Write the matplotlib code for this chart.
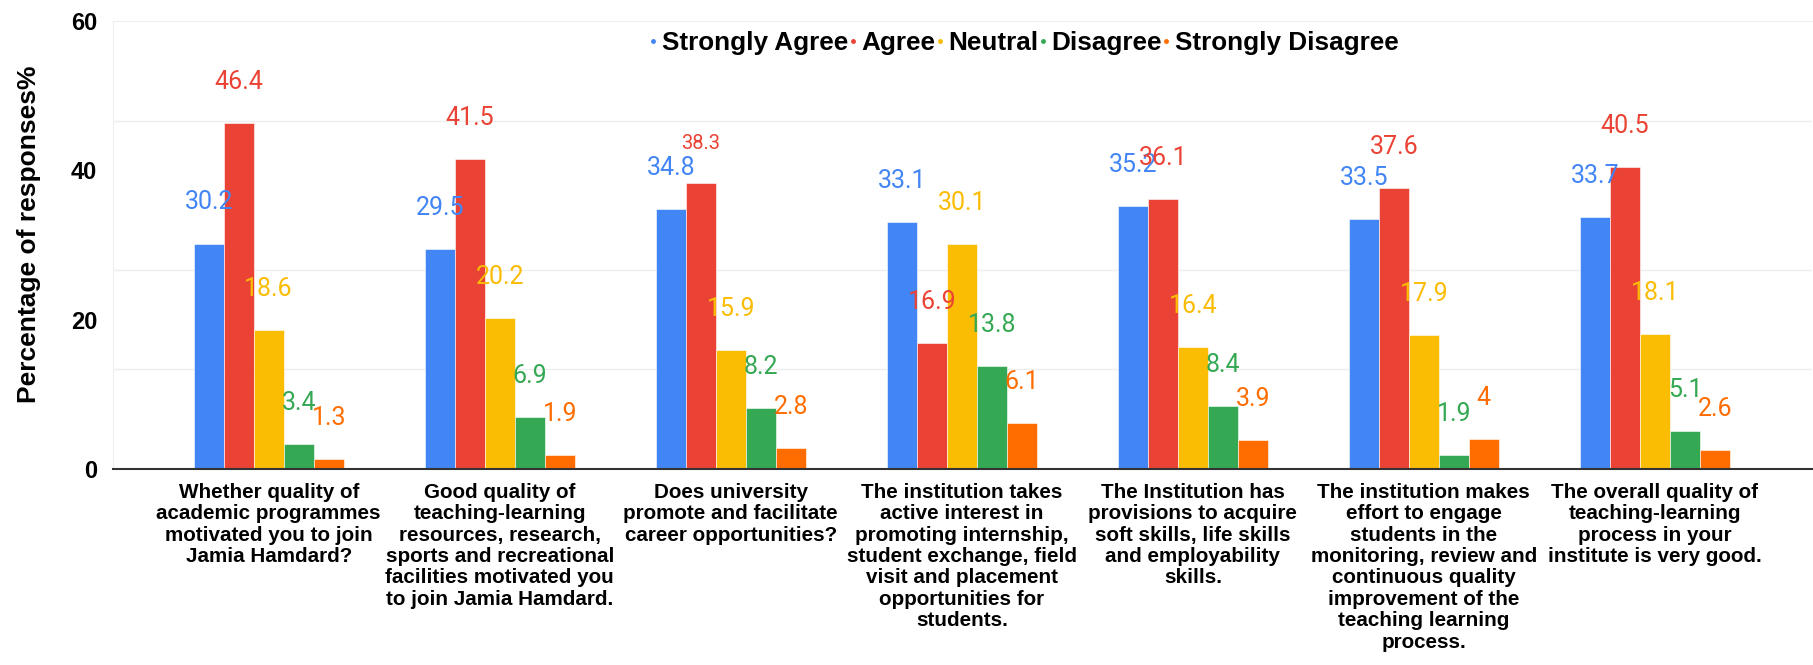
import matplotlib
matplotlib.use('Agg')
import matplotlib.pyplot as plt
from matplotlib.lines import Line2D
import numpy as np

series = ['Strongly Agree', 'Agree', 'Neutral', 'Disagree', 'Strongly Disagree']
colors = ['#4285F4', '#EA4335', '#FBBC04', '#34A853', '#FF6D01']

questions = [
	'Whether quality of\nacademic programmes\nmotivated you to join\nJamia Hamdard?',
	'Good quality of\nteaching-learning\nresources, research,\nsports and recreational\nfacilities motivated you\nto join Jamia Hamdard.',
	'Does university\npromote and facilitate\ncareer opportunities?',
	'The institution takes\nactive interest in\npromoting internship,\nstudent exchange, field\nvisit and placement\nopportunities for\nstudents.',
	'The Institution has\nprovisions to acquire\nsoft skills, life skills\nand employability\nskills.',
	'The institution makes\neffort to engage\nstudents in the\nmonitoring, review and\ncontinuous quality\nimprovement of the\nteaching learning\nprocess.',
	'The overall quality of\nteaching-learning\nprocess in your\ninstitute is very good.',
]

strongly_agree = [30.2, 29.5, 34.8, 33.1, 35.2, 33.5, 33.7]
agree = [46.4, 41.5, 38.3, 16.9, 36.1, 37.6, 40.5]
neutral = [18.6, 20.2, 15.9, 30.1, 16.4, 17.9, 18.1]
disagree = [3.4, 6.9, 8.2, 13.8, 8.4, 1.9, 5.1]
strongly_disagree = [1.3, 1.9, 2.8, 6.1, 3.9, 4, 2.6]

y_ticks = [0, 20, 40, 60]
grid_lines = [40 / 3, 80 / 3, 140 / 3]

values = [strongly_agree, agree, neutral, disagree, strongly_disagree]

W, H = 1813, 665
fig = plt.figure(figsize=(W / 100, H / 100), dpi=100)
ax = fig.add_axes([113 / W, 1 - 469 / H, (1812 - 113) / W, (469 - 21) / H])

x = np.arange(len(questions))
bw = 0.13
for i, (name, vals, c) in enumerate(zip(series, values, colors)):
	pos = x + (i - 2) * bw
	ax.bar(pos, vals, width=bw, color=c, edgecolor='white', linewidth=0.4, zorder=2)
	for j, (p, v) in enumerate(zip(pos, vals)):
		# one label in the source is drawn smaller than the rest
		size = 14.5 if (j == 2 and i == 1) else 18
		ax.annotate(f'{v:g}', (p, v), xytext=(0, 24.5), textcoords='offset points',
			ha='center', va='baseline', color=c, fontsize=size, family='Roboto', zorder=5)

ax.set_xlim(-0.674, 6.68)
ax.set_ylim(0, 60)
ax.set_xticks(x)
ax.set_xticklabels(questions, fontsize=14.9, fontweight='bold', family='Liberation Sans', linespacing=1.16)
ax.set_yticks(y_ticks)
ax.set_yticklabels([str(t) for t in y_ticks], fontsize=17, fontweight='bold', family='Liberation Sans')
ax.set_yticks(grid_lines, minor=True)
ax.tick_params(axis='x', length=0, pad=10)
ax.tick_params(axis='y', which='both', length=0, pad=11.5)
ax.grid(axis='y', which='minor', color='#eeeeee', linewidth=1, zorder=0)

ax.spines['right'].set_visible(False)
ax.spines['top'].set_color('#eeeeee')
ax.spines['left'].set_color('#eeeeee')
ax.spines['bottom'].set_color('#333333')
ax.spines['bottom'].set_linewidth(1.5)

fig.text(29 / W, 1 - 234 / H, 'Percentage of responses%', rotation=90, ha='center', va='center',
	fontsize=19, fontweight='bold', family='Liberation Sans')

handles = [Line2D([], [], marker='o', linestyle='', markersize=2.5, color=c) for c in colors]
fig.legend(handles, series, loc='center left', bbox_to_anchor=(650 / W, 1 - 43 / H), ncol=5, frameon=False,
	handlelength=0.25, handletextpad=0.2, columnspacing=0.05, borderaxespad=0, borderpad=0,
	prop={'family': 'Liberation Sans', 'weight': 'bold', 'size': 18.8})

fig.savefig('out.png', dpi=100)
